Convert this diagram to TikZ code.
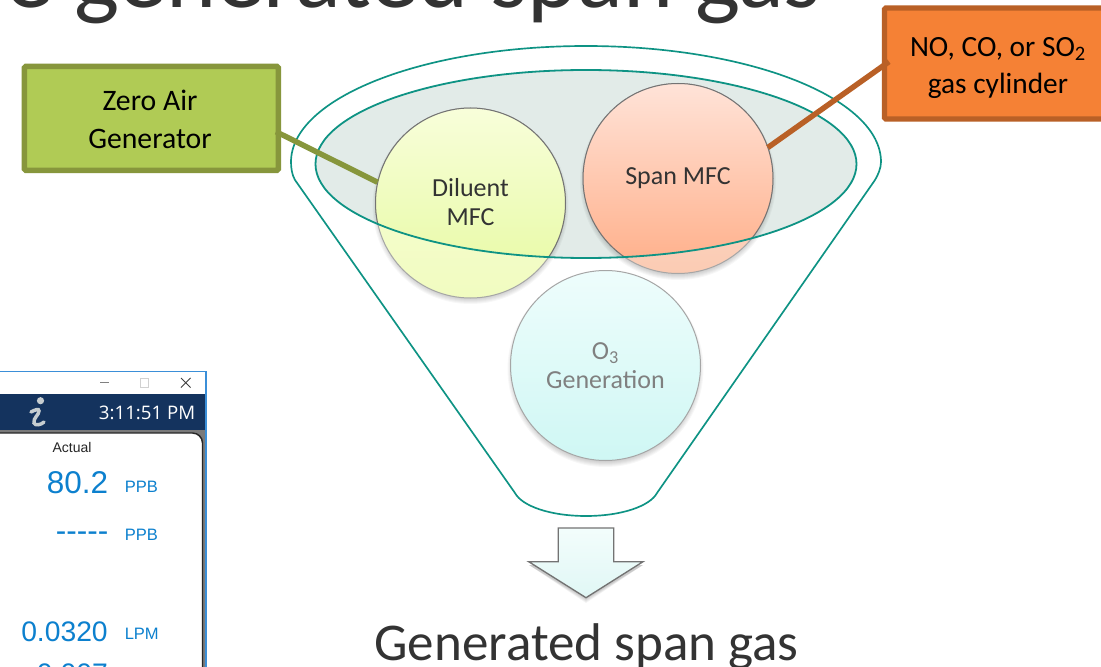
\documentclass[tikz,border=0pt]{standalone}
\usepackage{fontspec}
\setmainfont{Carlito}
\newfontfamily\arialf{Liberation Sans}
\newfontfamily\uifont{Open Sans}
\usetikzlibrary{shapes.geometric}
\definecolor{teal1}{HTML}{0E9384}
\definecolor{inkdark}{HTML}{333333}
\definecolor{appblue}{HTML}{0C80CE}
\definecolor{navybar}{HTML}{14335E}
\definecolor{winblue}{HTML}{3B8FD8}
\definecolor{iconpale}{HTML}{C6CDD0}
\definecolor{ellfill}{HTML}{E2EBE8}
\definecolor{dilA}{HTML}{F8FEDA}
\definecolor{dilB}{HTML}{F1FCC0}
\definecolor{dilC}{HTML}{E6FAA0}
\definecolor{spnA}{HTML}{FFE3D8}
\definecolor{spnB}{HTML}{FBCBB3}
\definecolor{spnC}{HTML}{FFAE88}
\definecolor{ozoA}{HTML}{EEFDFC}
\definecolor{ozoB}{HTML}{CFF7F4}
\definecolor{arrA}{HTML}{F3FDFC}
\definecolor{arrB}{HTML}{E0F7F5}
\definecolor{grnedge}{HTML}{87963C}
\definecolor{grnfill}{HTML}{B0CB55}
\definecolor{orgedge}{HTML}{B96026}
\definecolor{orgfill}{HTML}{F58135}
\newcommand{\softshadow}[3]{%
  \foreach \k in {0,1,...,5}{\fill[black,opacity=0.03] (#1,#2+3) circle[radius={#3+3-\k}];}%
}
\tikzset{
  x=0.75pt,y=-0.75pt,
  funnelline/.style={draw=teal1,line width=1.25pt},
  mfcout/.style={draw=black!35,line width=0.75pt},
  mfcin/.style={draw=black!55,line width=0.75pt},
  mfclabel/.style={circle,minimum size=142.5pt,inner sep=0pt,outer sep=0pt,align=center,text=inkdark,font=\fontsize{19.5}{22}\selectfont},
  callout/.style={rectangle,anchor=north west,inner sep=0pt,outer sep=0pt,line width=4pt,rounded corners=1pt,align=center,text=black},
  link/.style={line width=4.1pt},
  readbig/.style={anchor=base east,text=appblue,inner sep=0pt,font=\arialf\fontsize{23.6}{26}\selectfont},
  readunit/.style={anchor=base west,text=appblue,inner sep=0pt,font=\arialf\fontsize{12.4}{14}\selectfont},
}
\begin{document}
\begin{tikzpicture}
\useasboundingbox (0,0) rectangle (1101,667);
\clip (0,0) rectangle (1101,667);
\fill[white] (0,0) rectangle (1101,667);

% heading, cut by the top edge
\node[anchor=base west,inner sep=0pt,text=inkdark,font=\fontsize{71.6}{80}\selectfont] (heading) at (5,8) {e generated span gas};

% application window fragment
\fill[white] (0,372) rectangle (206,394);
\fill[black!52] (0,429) rectangle (206,667);
\fill[navybar] (0,394) rectangle (206,429.5);
\draw[draw=black!85,line width=1.1pt,fill=white,rounded corners=7.5pt] (-30,433) rectangle (202.5,700);
\draw[draw=winblue,line width=0.9pt] (0,371.5) -- (206,371.5) -- (206,667);
\draw[black!50,line width=1pt] (100,382.5) -- (109,382.5);
\draw[black!18,line width=0.7pt] (140.5,378.5) rectangle (148,387);
\draw[black!75,line width=0.7pt] (181,378) -- (190.5,387.5) (190.5,378) -- (181,387.5);
\fill[iconpale] (40.5,400.7) circle[radius=3.6];
\draw[iconpale,line width=2.6pt,line cap=round] (31,412) .. controls (35,410) and (39,408) .. (39,411) .. controls (39,415) and (33,418) .. (34,423) .. controls (35,426) and (41,425) .. (44,422);
\node[anchor=base east,inner sep=0pt,text=white,font=\uifont\fontsize{14}{16}\selectfont] (clock) at (195.5,419) {3:11:51 PM};
\node[anchor=base,inner sep=0pt,text=black!85,font=\arialf\fontsize{10.5}{12}\selectfont] (actual) at (72,452.5) {Actual};
\node[readbig] (r1) at (108.5,493.3) {80.2};
\node[readunit] (u1) at (124.5,492.7) {PPB};
\node[readbig] (r2) at (108.5,541) {-{}-{}-{}-{}-};
\node[readunit] (u2) at (124.5,540.7) {PPB};
\node[readbig,font=\arialf\fontsize{21.2}{24}\selectfont] (r3) at (108,641.7) {0.0320};
\node[readunit] (u3) at (124.5,639.3) {LPM};
\node[readbig,font=\arialf\fontsize{21.2}{24}\selectfont] (r4) at (108,683) {0.007};
\node[readunit] (u4) at (124.5,680) {LPM};

% funnel
\draw[funnelline] (295,180) .. controls (292,175) and (291,168) .. (291,162)
  arc[start angle=180,end angle=360,x radius=295,y radius=116]
  .. controls (881,168) and (878,175) .. (875,180) -- (657,493)
  .. controls (650,506) and (622,516) .. (586,516)
  .. controls (550,516) and (522,506) .. (515,493) -- cycle;
\fill[ellfill] (586,164) ellipse[x radius=270.5,y radius=94];

% circles: pale everywhere, stronger inside the inner ellipse
\softshadow{470.5}{203}{95}
\softshadow{678}{179}{95}
\softshadow{605.5}{366}{95}
\shade[top color=dilA,bottom color=dilB] (470.5,203) circle[radius=95];
\draw[mfcout] (470.5,203) circle[radius=95];
\shade[top color=spnA,bottom color=spnB] (678,178.5) circle[radius=95];
\draw[mfcout] (678,178.5) circle[radius=95];
\shade[top color=ozoA,bottom color=ozoB] (605.5,365.5) circle[radius=95];
\draw[mfcout] (605.5,365.5) circle[radius=95];
\begin{scope}
  \clip (586,164) ellipse[x radius=270.5,y radius=94];
  \shade[top color=dilA,bottom color=dilC] (470.5,203) circle[radius=95];
  \draw[mfcin] (470.5,203) circle[radius=95];
  \shade[top color=spnA,bottom color=spnC] (678,178.5) circle[radius=95];
  \draw[mfcin] (678,178.5) circle[radius=95];
\end{scope}
\draw[funnelline,line width=1.35pt] (586,164) ellipse[x radius=270.5,y radius=94];

% arrow
\foreach \k in {1,...,5}{
  \fill[black,opacity=0.045] (558.3,534) -- (613.7,534) -- (613.7,565) -- (643,565) -- (586,{598+\k}) -- (529,565) -- (558.3,565) -- cycle;
}
\shade[top color=arrA,bottom color=arrB,draw=black!55,line width=1pt]
  (558.3,528) -- (613.7,528) -- (613.7,561.7) -- (643,561.7) -- (586,597.7) -- (528.7,561.7) -- (558.3,561.7) -- cycle;

% texts of the circles
\node[mfclabel] (diluent) at (470.5,202) {Diluent\\MFC};
\node[mfclabel] (span) at (678,178.5) {Span MFC};
\node[mfclabel,text=black!50] (ozone) at (605.5,365.5) {O\textsubscript{3}\\Generation};

% callouts
\node[callout,draw=grnedge,fill=grnfill,minimum width=190.5pt,minimum height=78pt] (zero) at (24.4,66.4) {};
\node[inner sep=0pt,align=center,text=black,font=\fontsize{22.3}{28.5}\selectfont] (zerotext) at (150,119.5) {Zero Air\\Generator};
\node[callout,draw=orgedge,fill=orgfill,minimum width=225pt,minimum height=83.2pt] (cyl) at (884.5,8) {};
\node[inner sep=0pt,align=center,text=black,font=\fontsize{22}{27.75}\selectfont] (cyltext) at (998,68) {NO, CO, or SO\textsubscript{2}\\gas cylinder};

% connectors
\coordinate (zeroport) at (276,131.7);
\coordinate (cylport) at (889,61.7);
\draw[link,draw=grnedge] (zeroport) -- (diluent.168.6);
\draw[link,draw=orgedge] (cylport) -- (span.19);

% caption
\node[anchor=base,inner sep=0pt,text=inkdark,font=\fontsize{39.8}{44}\selectfont] (caption) at (586.5,660) {Generated span gas};
\end{tikzpicture}
\end{document}
